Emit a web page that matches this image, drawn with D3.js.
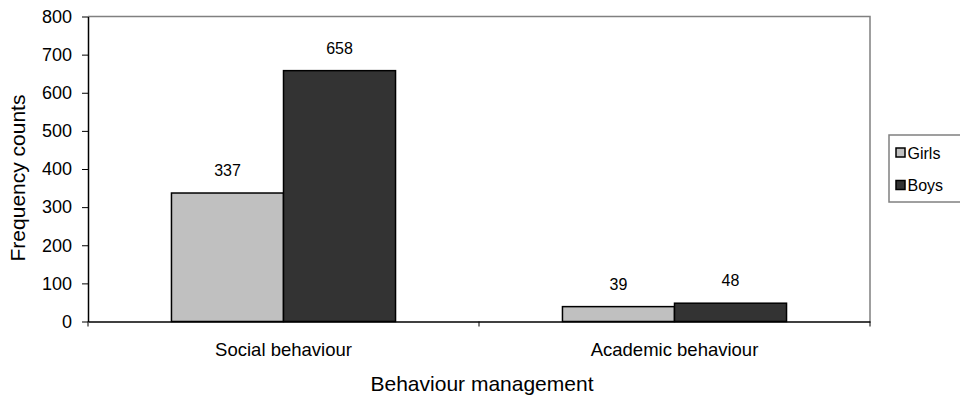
<!DOCTYPE html>
<html>
<head>
<meta charset="utf-8">
<script src="https://cdn.jsdelivr.net/npm/d3@7"></script>
<style>
  html, body { margin: 0; padding: 0; background: #fff; }
  svg { display: block; font-family: "Liberation Sans", Arial, sans-serif; }
</style>
</head>
<body>
<svg id="chart" width="960" height="399"></svg>
<script>
// Behaviour management frequency counts by gender
const categories = ["Social behaviour", "Academic behaviour"];
const seriesNames = ["Girls", "Boys"];
const girls = [337, 39];
const boys = [658, 48];
const yTicks = [0, 100, 200, 300, 400, 500, 600, 700, 800];
const colors = { Girls: "#c0c0c0", Boys: "#333333" };

const values = { Girls: girls, Boys: boys };
const rows = categories.map((c, i) => ({
  category: c,
  items: seriesNames.map(s => ({ series: s, value: values[s][i] }))
}));

const svg = d3.select("#chart");
const plot = { left: 88, right: 870, top: 16.5, bottom: 321.5 };
const FONT = "Liberation Sans, Arial, sans-serif";

const x0 = d3.scaleBand().domain(categories).range([plot.left, plot.right]).padding(0);
const x1 = d3.scaleBand().domain(seriesNames).range([0, x0.bandwidth()])
  .paddingInner(0).paddingOuter(0.745);
const y = d3.scaleLinear().domain([0, 800]).range([plot.bottom, plot.top]);

// plot area frame (top and right)
svg.append("path")
  .attr("d", `M${plot.left},${plot.top}H${plot.right}V${plot.bottom}`)
  .attr("fill", "none").attr("stroke", "#808080").attr("stroke-width", 1.5);

// bars
const groups = svg.append("g").selectAll("g").data(rows).join("g")
  .attr("transform", d => `translate(${x0(d.category)},0)`);

groups.selectAll("rect").data(d => d.items).join("rect")
  .attr("x", d => x1(d.series))
  .attr("y", d => y(d.value))
  .attr("width", x1.bandwidth())
  .attr("height", d => y(0) - y(d.value))
  .attr("fill", d => colors[d.series])
  .attr("stroke", "#000").attr("stroke-width", 1.5);

groups.selectAll("text").data(d => d.items).join("text")
  .attr("x", d => x1(d.series) + x1.bandwidth() / 2)
  .attr("y", d => y(d.value) - 17)
  .attr("text-anchor", "middle")
  .attr("font-size", 16)
  .attr("fill", "#000")
  .text(d => d.value);

// y axis
const yAxis = svg.append("g").attr("transform", `translate(${plot.left},0)`)
  .call(d3.axisLeft(y).tickValues(yTicks).tickSize(6).tickPadding(10).tickSizeOuter(0));
yAxis.attr("font-size", null).attr("font-family", null);
yAxis.select(".domain").attr("stroke", "#000").attr("stroke-width", 1.5);
yAxis.selectAll(".tick line").attr("stroke", "#000");
yAxis.selectAll(".tick text").attr("font-size", 18).attr("fill", "#000")
  .attr("font-family", FONT);

// x axis
const xAxis = svg.append("g").attr("transform", `translate(0,${plot.bottom})`)
  .call(d3.axisBottom(x0).tickSize(0).tickPadding(21).tickSizeOuter(0));
xAxis.attr("font-size", null).attr("font-family", null);
xAxis.select(".domain").attr("stroke", "#000").attr("stroke-width", 1.5);
xAxis.selectAll(".tick text").attr("font-size", 18.5).attr("fill", "#000")
  .attr("font-family", FONT);

// category separators on the x axis
const edges = categories.map(c => x0(c)).concat([x0(categories[categories.length - 1]) + x0.bandwidth()]);
svg.append("g").selectAll("line").data(edges).join("line")
  .attr("x1", d => d).attr("x2", d => d)
  .attr("y1", plot.bottom).attr("y2", plot.bottom + 5)
  .attr("stroke", "#000").attr("stroke-width", 1);

// axis titles
svg.append("text")
  .attr("transform", `translate(25,${(plot.top + plot.bottom) / 2 + 9}) rotate(-90)`)
  .attr("text-anchor", "middle")
  .attr("font-size", 21)
  .text("Frequency counts");

svg.append("text")
  .attr("x", (plot.left + plot.right) / 2 + 3)
  .attr("y", 391)
  .attr("text-anchor", "middle")
  .attr("font-size", 21)
  .text("Behaviour management");

// legend
const legend = svg.append("g");
legend.append("rect")
  .attr("x", 889).attr("y", 135).attr("width", 90).attr("height", 67)
  .attr("fill", "#fff").attr("stroke", "#808080").attr("stroke-width", 1.5);
const li = legend.selectAll("g").data(seriesNames).join("g")
  .attr("transform", (d, i) => `translate(896,${148 + i * 32.5})`);
li.append("rect")
  .attr("width", 9).attr("height", 9)
  .attr("fill", d => colors[d]).attr("stroke", "#000").attr("stroke-width", 1.5);
li.append("text")
  .attr("x", 11.5).attr("y", 10.5)
  .attr("font-size", 16)
  .text(d => d);
</script>
</body>
</html>
